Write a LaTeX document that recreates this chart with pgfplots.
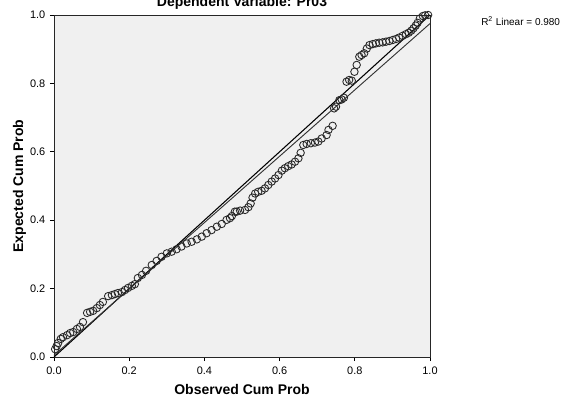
\documentclass[border=0pt]{standalone}
\usepackage{pgfplots}
\pgfplotsset{compat=1.18}
\usepackage{fontspec}
\setmainfont{Liberation Sans}
\definecolor{bgc}{HTML}{F0F0F0}
\definecolor{mk}{HTML}{282828}
\begin{document}
\begin{tikzpicture}[x=1pt,y=1pt]
\begin{axis}[
  scale only axis, width=282pt, height=256.5pt,
  xmin=0, xmax=1, ymin=0, ymax=1,
  axis background/.style={fill=bgc},
  xtick={0,0.2,0.4,0.6,0.8,1}, ytick={0,0.2,0.4,0.6,0.8,1},
  tick align=outside, xtick pos=left, ytick pos=left,
  major tick length=3pt,
  tick style={black, line width=0.6pt},
  axis line style={line width=0.6pt, black!85},
  tick label style={font=\fontsize{8.2}{9}\selectfont,
    /pgf/number format/fixed, /pgf/number format/fixed zerofill,
    /pgf/number format/precision=1, /pgf/number format/assume math mode=true},
  xticklabel style={yshift=-1pt},
  clip=false,
]
\addplot[black, line width=0.8pt] coordinates {(0,0) (1,1)};
\addplot[black!80, line width=0.7pt] coordinates {(0,0.005) (1,0.975)};
\addplot[only marks, mark=o, mark size=2.8pt, mk, mark options={line width=0.65pt}] table {
x y
0.003 0.023
0.007 0.032
0.011 0.041
0.018 0.053
0.024 0.058
0.035 0.064
0.043 0.070
0.051 0.073
0.061 0.082
0.069 0.088
0.077 0.102
0.088 0.129
0.096 0.132
0.104 0.135
0.114 0.143
0.122 0.152
0.130 0.161
0.144 0.178
0.154 0.181
0.162 0.184
0.170 0.187
0.181 0.190
0.189 0.196
0.197 0.202
0.207 0.208
0.215 0.213
0.223 0.231
0.234 0.240
0.245 0.252
0.260 0.269
0.273 0.281
0.286 0.293
0.300 0.303
0.313 0.308
0.326 0.315
0.339 0.323
0.353 0.332
0.366 0.337
0.380 0.344
0.393 0.352
0.406 0.362
0.419 0.371
0.433 0.381
0.446 0.389
0.459 0.401
0.468 0.406
0.473 0.412
0.481 0.425
0.486 0.425
0.495 0.428
0.508 0.430
0.517 0.438
0.523 0.449
0.528 0.466
0.535 0.478
0.543 0.483
0.552 0.486
0.561 0.493
0.570 0.503
0.579 0.513
0.588 0.522
0.597 0.532
0.606 0.545
0.614 0.552
0.623 0.558
0.632 0.563
0.641 0.571
0.650 0.581
0.656 0.597
0.663 0.620
0.672 0.623
0.683 0.625
0.694 0.627
0.703 0.630
0.712 0.639
0.725 0.649
0.730 0.664
0.741 0.676
0.745 0.727
0.750 0.732
0.759 0.751
0.765 0.753
0.771 0.758
0.778 0.805
0.785 0.810
0.792 0.808
0.799 0.834
0.805 0.854
0.812 0.878
0.818 0.883
0.825 0.888
0.832 0.902
0.839 0.912
0.848 0.915
0.856 0.917
0.865 0.919
0.874 0.920
0.883 0.922
0.892 0.924
0.901 0.927
0.910 0.930
0.918 0.934
0.927 0.939
0.936 0.944
0.943 0.948
0.950 0.954
0.956 0.961
0.962 0.969
0.967 0.977
0.973 0.990
0.981 0.997
0.987 0.999
0.995 1.000
};
\end{axis}
\node[anchor=base, font=\bfseries\fontsize{10.5}{12}\selectfont] at (141,-28.4) {Observed Cum Prob};
\node[anchor=base, rotate=90, font=\bfseries\fontsize{10.5}{12}\selectfont] at (-23.25,128.25) {Expected Cum Prob};
\node[anchor=base, font=\bfseries\fontsize{10.5}{12}\selectfont] at (141,263) {Dependent Variable: Pr03};
\node[anchor=base west, font=\fontsize{7.5}{9}\selectfont, inner sep=0pt] at (320.25,248.25) {R\textsuperscript{2} Linear = 0.980};
\pgfresetboundingbox
\path[use as bounding box] (-40.5,-30) rectangle (384.75,267.75);
\end{tikzpicture}
\end{document}
